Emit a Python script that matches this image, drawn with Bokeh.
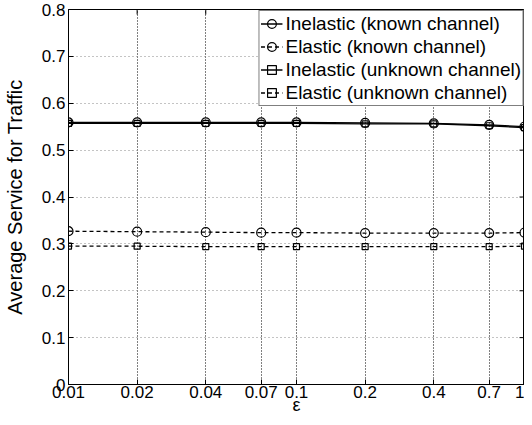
import math
from bokeh.plotting import figure
from bokeh.models import (FixedTicker, CustomJSTickFormatter,
                          Legend, LegendItem, Range1d)
from bokeh.embed import file_html
from bokeh.resources import INLINE

# ---- data ----
eps = [0.01, 0.02, 0.04, 0.07, 0.1, 0.2, 0.4, 0.7, 1.0]
inelastic_known = [0.559, 0.559, 0.559, 0.559, 0.559, 0.558, 0.557, 0.554, 0.550]
elastic_known = [0.327, 0.326, 0.325, 0.324, 0.324, 0.323, 0.323, 0.323, 0.324]
inelastic_unknown = [0.557, 0.557, 0.557, 0.557, 0.557, 0.556, 0.556, 0.552, 0.548]
elastic_unknown = [0.295, 0.295, 0.294, 0.294, 0.294, 0.294, 0.294, 0.294, 0.295]
y_ticks = [0, 0.1, 0.2, 0.3, 0.4, 0.5, 0.6, 0.7, 0.8]
x_ticks = eps
series_names = ["Inelastic (known channel)", "Elastic (known channel)",
                "Inelastic (unknown channel)", "Elastic (unknown channel)"]

FONT = "Liberation Sans"
X_MIN, X_MAX, Y_MIN, Y_MAX = 0.01, 1.0, 0.0, 0.8

p = figure(width=524, height=417, x_axis_type="log",
           x_range=Range1d(X_MIN, X_MAX), y_range=Range1d(Y_MIN, Y_MAX),
           output_backend="svg", toolbar_location=None,
           min_border_left=0, min_border_right=0, min_border_top=9,
           min_border_bottom=0)

fmt = CustomJSTickFormatter(code="return String(parseFloat(tick.toPrecision(6)));")

p.xaxis.ticker = FixedTicker(ticks=x_ticks, minor_ticks=[])
p.yaxis.ticker = FixedTicker(ticks=y_ticks, minor_ticks=[])
p.xaxis.formatter = fmt
p.yaxis.formatter = fmt

for ax in (p.xaxis[0], p.yaxis[0]):
    ax.major_tick_in = 5
    ax.major_tick_out = 0
    ax.minor_tick_line_color = None
    ax.axis_line_color = "black"
    ax.major_tick_line_color = "black"
    ax.major_label_text_font = FONT
    ax.major_label_text_font_size = "17px"
    ax.major_label_text_color = "black"
    ax.axis_label_text_font = FONT
    ax.axis_label_text_font_style = "normal"
    ax.axis_label_text_color = "black"

p.xaxis.major_label_standoff = 1
p.yaxis.major_label_standoff = 3
p.xaxis.axis_label = "ε"
p.xaxis.axis_label_text_font_size = "18px"
p.xaxis.axis_label_standoff = -6
p.yaxis.axis_label = "Average Service for Traffic"
p.yaxis.axis_label_text_font_size = "20px"
p.yaxis.axis_label_standoff = 13

# box ticks on top and right edges (half of each dash is clipped by the frame)
p.scatter([X_MAX] * len(y_ticks), y_ticks, marker="dash", size=10,
          line_color="black", line_width=1)
p.scatter(x_ticks, [Y_MAX] * len(x_ticks), marker="dash", size=10, angle=math.pi / 2,
          line_color="black", line_width=1)

p.outline_line_color = "black"
p.outline_line_width = 1

p.xgrid.grid_line_color = "black"
p.xgrid.grid_line_dash = "1 2"
p.xgrid.grid_line_width = 1
p.ygrid.grid_line_color = "#888888"
p.ygrid.grid_line_dash = "1 3"
p.ygrid.grid_line_width = 1

items = []
specs = [
    (inelastic_known, "solid", "circle", 9),
    (elastic_known, "dashed", "circle", 9),
    (inelastic_unknown, "solid", "square", 6),
    (elastic_unknown, "dashed", "square", 6),
]
for name, (vals, dash, marker, size) in zip(series_names, specs):
    ln = p.line(eps, vals, line_color="black", line_width=1.3,
                line_dash=("solid" if dash == "solid" else "4 3"))
    sc = p.scatter(eps, vals, marker=marker, size=size, line_color="black",
                   fill_color=None, line_width=1.2)
    items.append(LegendItem(label=name, renderers=[ln, sc]))

legend = Legend(items=items, location="top_right", margin=1, padding=1,
                spacing=0, label_height=23, glyph_height=23, glyph_width=22,
                label_standoff=3, label_text_font=FONT,
                label_text_font_size="19px", label_text_color="black",
                border_line_color="black", border_line_width=1,
                background_fill_color="white", background_fill_alpha=1)
p.add_layout(legend)

open("out.html", "w").write(file_html(p, INLINE))
